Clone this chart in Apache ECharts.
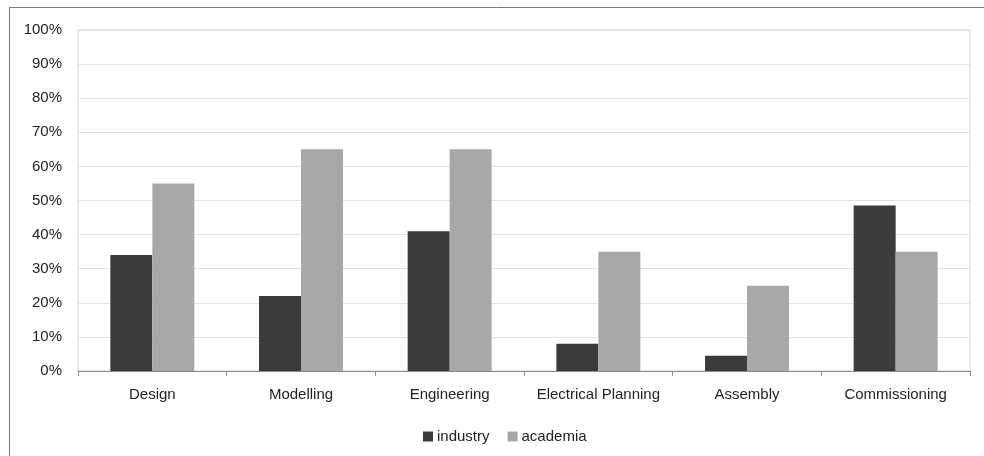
<!DOCTYPE html>
<html>
<head>
<meta charset="utf-8">
<script src="https://cdn.jsdelivr.net/npm/echarts@6/dist/echarts.min.js"></script>
<style>
  html, body { margin: 0; padding: 0; background: #ffffff; }
  #chart { width: 984px; height: 456px; }
</style>
</head>
<body>
<div id="chart"></div>
<script>
// Activity areas compared between the two respondent groups
const categories = ['Design', 'Modelling', 'Engineering', 'Electrical Planning', 'Assembly', 'Commissioning'];
const industry = [34, 22, 41, 8, 4.5, 48.5];
const academia = [55, 65, 65, 35, 25, 35];
const yTicks = [0, 10, 20, 30, 40, 50, 60, 70, 80, 90, 100];

const chart = echarts.init(document.getElementById('chart'));
const FONT = '"Liberation Sans", Arial, sans-serif';

chart.setOption({
  animation: false,
  backgroundColor: '#ffffff',
  textStyle: { fontFamily: FONT },
  graphic: [
    // outer frame (top and left edges)
    { type: 'line', shape: { x1: 9, y1: 7.5, x2: 984, y2: 7.5 }, style: { stroke: '#7a7a7a', lineWidth: 1 } },
    { type: 'line', shape: { x1: 9.5, y1: 7, x2: 9.5, y2: 456 }, style: { stroke: '#7a7a7a', lineWidth: 1 } }
  ],
  grid: {
    left: 78, right: 14, top: 30, bottom: 85,
    show: true, borderColor: '#d4d4d4', borderWidth: 1
  },
  legend: {
    top: 424, left: 418,
    itemWidth: 10, itemHeight: 10, itemGap: 18,
    icon: 'rect',
    textStyle: { fontSize: 15, color: '#222', fontFamily: FONT, padding: [0, 0, 0, -1] },
    data: ['industry', 'academia']
  },
  xAxis: {
    type: 'category',
    data: categories,
    axisLine: { lineStyle: { color: '#8a8a8a' } },
    axisTick: { show: true, length: 5, lineStyle: { color: '#8a8a8a' } },
    axisLabel: { fontSize: 15, color: '#222', margin: 16, interval: 0, fontFamily: FONT }
  },
  yAxis: {
    type: 'value',
    min: yTicks[0], max: yTicks[yTicks.length - 1], interval: 10,
    axisLine: { show: false },
    axisTick: { show: false },
    axisLabel: { fontSize: 15, color: '#222', margin: 16, formatter: '{value}%', fontFamily: FONT },
    splitLine: { lineStyle: { color: '#e2e2e2' } }
  },
  series: [
    {
      name: 'industry', type: 'bar', data: industry,
      barWidth: 42, barGap: '0%',
      itemStyle: { color: '#3b3b3b' }
    },
    {
      name: 'academia', type: 'bar', data: academia,
      barWidth: 42,
      itemStyle: { color: '#a8a8a8' }
    }
  ]
});
</script>
</body>
</html>
